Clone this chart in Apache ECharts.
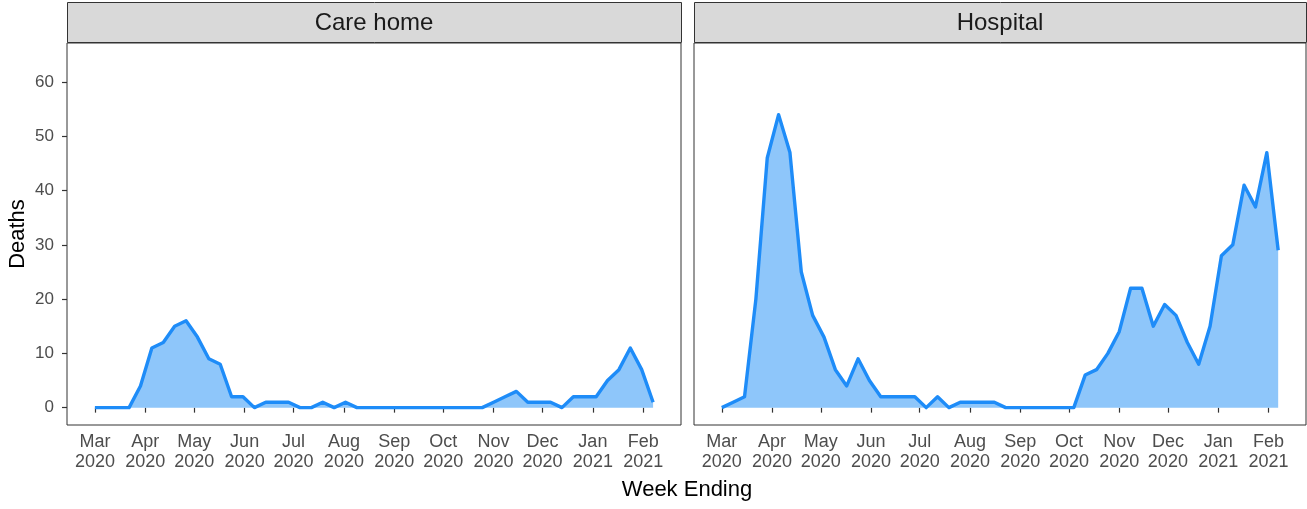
<!DOCTYPE html>
<html><head><meta charset="utf-8">
<script src="https://cdn.jsdelivr.net/npm/echarts@6/dist/echarts.min.js"></script>
<style>html,body{margin:0;padding:0;background:#fff}#c{width:1307px;height:509px}</style>
</head><body><div id="c"></div>
<script>
const weekEnding = [
  '2020-03-01','2020-03-08','2020-03-15','2020-03-22','2020-03-29',
  '2020-04-05','2020-04-12','2020-04-19','2020-04-26',
  '2020-05-03','2020-05-10','2020-05-17','2020-05-24','2020-05-31',
  '2020-06-07','2020-06-14','2020-06-21','2020-06-28',
  '2020-07-05','2020-07-12','2020-07-19','2020-07-26',
  '2020-08-02','2020-08-09','2020-08-16','2020-08-23','2020-08-30',
  '2020-09-06','2020-09-13','2020-09-20','2020-09-27',
  '2020-10-04','2020-10-11','2020-10-18','2020-10-25',
  '2020-11-01','2020-11-08','2020-11-15','2020-11-22','2020-11-29',
  '2020-12-06','2020-12-13','2020-12-20','2020-12-27',
  '2021-01-03','2021-01-10','2021-01-17','2021-01-24','2021-01-31',
  '2021-02-07'
];
const careHome = [0,0,0,0,4,11,12,15,16,13,9,8,2,2,0,1,1,1,0,0,1,0,1,0,0,0,0,0,0,0,0,0,0,0,0,1,2,3,1,1,1,0,2,2,2,5,7,11,7,1];
const hospital = [0,1,2,20,46,54,47,25,17,13,7,4,9,5,2,2,2,2,0,2,0,1,1,1,1,0,0,0,0,0,0,0,6,7,10,14,22,22,15,19,17,12,8,15,28,30,41,37,47,29];
const panelTitles = ['Care home', 'Hospital'];
const tickDates = ['2020-03-01','2020-04-01','2020-05-01','2020-06-01','2020-07-01','2020-08-01',
  '2020-09-01','2020-10-01','2020-11-01','2020-12-01','2021-01-01','2021-02-01'];
const yTicks = [0,10,20,30,40,50,60];
const monthNames = ['Jan','Feb','Mar','Apr','May','Jun','Jul','Aug','Sep','Oct','Nov','Dec'];

const ts = s => Date.parse(s + 'T00:00:00Z');
const t0 = ts(weekEnding[0]), t1 = ts(weekEnding[weekEnding.length - 1]);
const pad = (t1 - t0) * 0.05;
const tickVals = tickDates.map(ts);
const fmt = v => { const d = new Date(v); return monthNames[d.getUTCMonth()] + '\n' + d.getUTCFullYear(); };

const FONT = 'Liberation Sans, Arial, sans-serif';
const grids = [
  {left: 67, top: 43, width: 614, height: 382},
  {left: 694, top: 43, width: 612, height: 382}
];
const chart = echarts.init(document.getElementById('c'), null, {renderer: 'canvas'});

const xAxes = grids.map((g, i) => ({
  type: 'value', gridIndex: i, min: t0 - pad, max: t1 + pad,
  axisLine: {show: false}, splitLine: {show: false},
  axisTick: {show: true, customValues: tickVals, length: 5, lineStyle: {color: '#333', width: 1.2}},
  axisLabel: {show: true, customValues: tickVals, formatter: fmt, color: '#4d4d4d',
    fontSize: 18, lineHeight: 20, fontFamily: FONT, margin: 7}
}));
const yAxes = grids.map((g, i) => ({
  type: 'value', gridIndex: i, min: -3.2, max: 67.2,
  axisLine: {show: false}, splitLine: {show: false},
  axisTick: {show: i === 0, customValues: yTicks, length: 5, lineStyle: {color: '#333', width: 1.2}},
  axisLabel: {show: i === 0, customValues: yTicks, color: '#4d4d4d', fontSize: 17, fontFamily: FONT, margin: 13}
}));
const seriesData = [careHome, hospital];
const series = seriesData.map((arr, i) => ({
  type: 'line', xAxisIndex: i, yAxisIndex: i, showSymbol: false, silent: true,
  data: arr.map((v, k) => [ts(weekEnding[k]), v]),
  lineStyle: {color: '#1e8cf8', width: 3.4, join: 'round'},
  areaStyle: {color: '#8ec6fa', opacity: 1}
}));

const graphic = [];
grids.forEach((g, i) => {
  graphic.push({type: 'rect', shape: {x: g.left + 0.5, y: 2.5, width: g.width, height: 40},
    style: {fill: '#d9d9d9', stroke: '#333', lineWidth: 1}, z: 10});
  graphic.push({type: 'text', x: g.left + g.width / 2, y: 23,
    style: {text: panelTitles[i], fill: '#1a1a1a', font: '24px ' + FONT, textAlign: 'center', textVerticalAlign: 'middle'}, z: 11});
});
graphic.push({type: 'text', x: 18, y: 234, rotation: Math.PI / 2,
  style: {text: 'Deaths', fill: '#000', font: '22px ' + FONT, textAlign: 'center', textVerticalAlign: 'middle'}});
graphic.push({type: 'text', x: 687, y: 490,
  style: {text: 'Week Ending', fill: '#000', font: '22px ' + FONT, textAlign: 'center', textVerticalAlign: 'middle'}});

chart.setOption({
  animation: false,
  backgroundColor: '#fff',
  grid: grids.map(g => Object.assign({show: true, borderColor: '#333', borderWidth: 1, backgroundColor: '#fff'}, g)),
  xAxis: xAxes, yAxis: yAxes, series, graphic
});
</script></body></html>
